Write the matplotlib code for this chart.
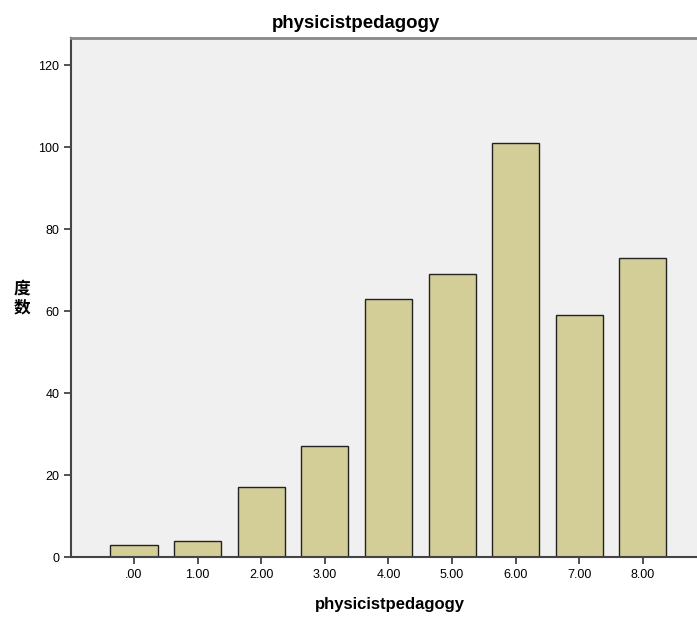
import matplotlib
matplotlib.use("Agg")
import matplotlib.pyplot as plt

categories = [".00", "1.00", "2.00", "3.00", "4.00", "5.00", "6.00", "7.00", "8.00"]
counts = [3, 4, 17, 27, 63, 69, 101, 59, 73]
yticks = [0, 20, 40, 60, 80, 100, 120]

plt.rcParams['font.family'] = ['Liberation Sans', 'Noto Sans CJK SC', 'DejaVu Sans']

W, H = 697, 617
fig = plt.figure(figsize=(W / 100, H / 100), dpi=100)
fig.patch.set_facecolor('white')
ax = fig.add_axes([71 / W, 60 / H, 626 / W, 519 / H])
ax.set_facecolor('#F0F0F0')

x = list(range(len(categories)))
ax.bar(x, counts, width=0.74, color='#D3CE97', edgecolor='#222222', linewidth=1.0)

ax.set_xlim(-0.99, 8.85)
ax.set_ylim(0, 126.6)
ax.set_xticks(x)
ax.set_xticklabels(categories, fontsize=9)
ax.set_yticks(yticks)
ax.set_yticklabels([str(v) for v in yticks], fontsize=9)
ax.tick_params(axis='both', direction='out', length=5, width=1.2, color='#333333')

for side in ['left', 'bottom']:
    ax.spines[side].set_color('#444444')
    ax.spines[side].set_linewidth(1.5)
ax.spines['top'].set_color('#888888')
ax.spines['top'].set_linewidth(2)
ax.spines['right'].set_visible(False)

# title and axis labels placed in figure pixels
fig.text(356 / W, 1 - 24 / H, 'physicistpedagogy', ha='center', va='center',
         fontsize=13.4, fontweight='bold')
fig.text(390 / W, 1 - 605 / H, 'physicistpedagogy', ha='center', va='center',
         fontsize=12, fontweight='bold')
fig.text(22 / W, 1 - 298 / H, '度\n数', ha='center', va='center', fontsize=12,
         fontweight='bold', family=['Noto Sans CJK SC', 'DejaVu Sans'], linespacing=1.1)

fig.savefig('out.png', dpi=100)
